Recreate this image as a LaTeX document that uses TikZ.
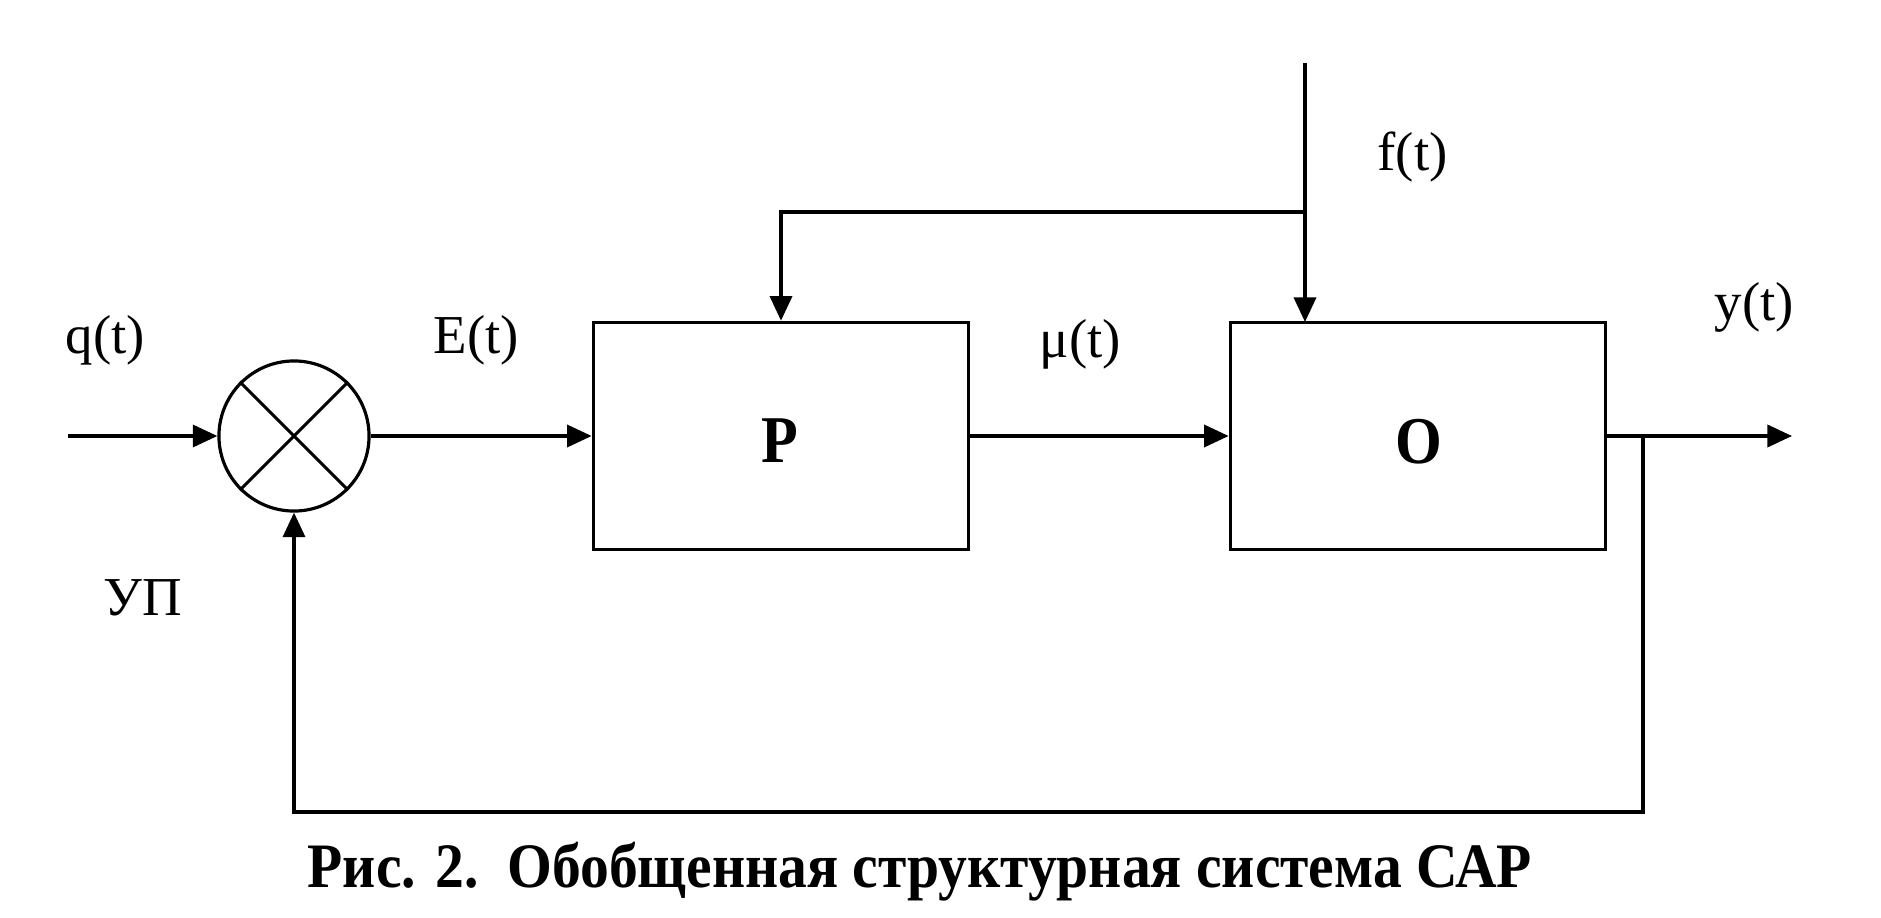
\documentclass[tikz,border=0pt]{standalone}
\usepackage{fontspec}
\setmainfont{Liberation Serif}
\usetikzlibrary{arrows.meta}
\tikzset{
  sig/.style={line width=0.9pt},
  arr/.style={sig, -{Triangle[length=7pt,width=6.3pt]}},
  blockbox/.style={draw, line width=1pt, rectangle, minimum width=3.75cm, minimum height=2.27cm, inner sep=0pt},
  summer/.style={draw, line width=0.9pt, circle, minimum size=1.5cm, inner sep=0pt},
  lbl/.style={font=\fontsize{15.6}{18}\selectfont, inner sep=0pt, anchor=base west},
  blocklbl/.style={font=\fontsize{19}{22}\selectfont\bfseries, inner sep=0pt, anchor=base},
  captiontext/.style={font=\fontsize{18}{21}\selectfont\bfseries, inner sep=0pt, anchor=base}
}
\begin{document}
\begin{tikzpicture}[x=0.01cm, y=-0.01cm]
\useasboundingbox (0,0) rectangle (1881,918);
% nodes
\node[summer] (s) at (294,436) {};
\draw[sig] (s.north west) -- (s.south east);
\draw[sig] (s.north east) -- (s.south west);
\node[blockbox] (P) at (781,436) {};
\node[blockbox] (O) at (1418,436) {};
\node[blocklbl] (Pt) at (780,462) {\scalebox{0.9}[1]{P}};
\node[blocklbl] (Ot) at (1419,463) {\scalebox{0.9}[1]{O}};
% coordinates
\coordinate (qin) at (68,436);
\coordinate (yout) at (1792,436);
\coordinate (br) at (1643,436);
\coordinate (brd) at (1643,812);
\coordinate (fbl) at (294,812);
\coordinate (ftop) at (1305,63);
\coordinate (fbr) at (1305,212);
\coordinate (fbp) at (781,212);
\coordinate (oin) at (1305,322);
% connectors
\draw[arr] (qin) -- (s.west);
\draw[arr] (s.east) -- (P.west);
\draw[arr] (P.east) -- (O.west);
\draw[arr] (O.east) -- (yout);
\draw[arr] (br) -- (brd) -- (fbl) -- (s.south);
\draw[arr] (ftop) -- (oin);
\draw[arr] (fbr) -- (fbp) -- (P.north);
% labels
\node[lbl] (lq) at (65,353) {q(t)};
\node[lbl] (le) at (433,353) {E(t)};
\node[lbl] (lm) at (1039,357) {μ(t)};
\node[lbl] (lf) at (1377,170) {f(t)};
\node[lbl] (ly) at (1714,320) {y(t)};
\node[lbl] (lu) at (103,615) {УП};
\node[captiontext] (caption) at (920,887) {\scalebox{0.91}[1]{Рис. 2.\ \ Обобщенная структурная система САР}};
\end{tikzpicture}
\end{document}
